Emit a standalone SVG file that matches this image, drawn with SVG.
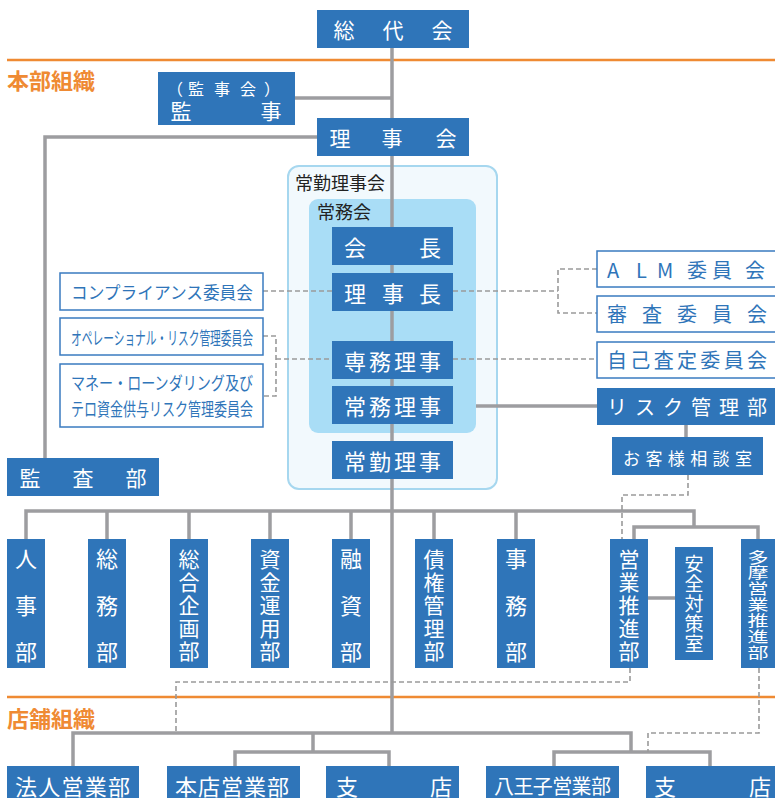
<svg xmlns="http://www.w3.org/2000/svg" width="775" height="798" viewBox="0 0 775 798">
<style>
text{font-family:"Noto Sans CJK JP","Noto Sans",sans-serif}
.n{fill:#2f75b9}
.c{fill:#fff;stroke:#3a7bc0;stroke-width:1.5}
.w{fill:#fff;dominant-baseline:central}
.wm{fill:#fff;dominant-baseline:central;text-anchor:middle}
.b{fill:#2f75b9;dominant-baseline:central}
.o{fill:#ef8a33;font-weight:bold;font-size:22px;dominant-baseline:central}
.s{fill:none;stroke:#9d9da0;stroke-width:3.5}
.d{fill:none;stroke:#9a9a9a;stroke-width:1.6;stroke-dasharray:5 3}
.ol{stroke:#ef8a33;stroke-width:2.5}
.lb{fill:#222;font-size:18px;dominant-baseline:central}
</style>
<g id="sections">
<line class="ol" x1="7" y1="60" x2="775" y2="60"/>
<line class="ol" x1="7" y1="697" x2="775" y2="697"/>
<text class="o" x="7" y="79">本部組織</text>
<text class="o" x="7" y="717">店舗組織</text>
</g>
<g id="panels">
<rect x="288" y="166" width="209" height="323" rx="11" fill="#f2f9fd" stroke="#a6d7ef" stroke-width="2"/>
<text class="lb" x="295" y="182">常勤理事会</text>
<rect x="309" y="199" width="167" height="234" rx="9" fill="#a9ddf6"/>
<text class="lb" x="317" y="211">常務会</text>
</g>
<g id="connectors">
<path class="s" d="M392 48V733"/>
<path class="s" d="M295 98H392"/>
<path class="s" d="M317 137H45V458"/>
<path class="s" d="M476 406H597"/>
<path class="s" d="M686 425V437"/>
<path class="s" d="M26 539V511H694V527M107 511V539M189 511V539M270 511V539M351 511V539M434 511V539M516 511V539"/>
<path class="s" d="M634 539V527H758V539"/>
<path class="s" d="M648 598H675"/>
<path class="s" d="M73 766V733H631V752M313 733V752M235 766V752H389V766M554 766V752H710V766"/>
<path class="d" d="M263 291H332"/>
<path class="d" d="M263 336H276V396H263M276 359H332"/>
<path class="d" d="M453 291H558M597 269H558V313H597"/>
<path class="d" d="M453 359H597"/>
<path class="d" d="M688 475V495H622V539"/>
<path class="d" d="M630 668V682H176V733"/>
<path class="d" d="M759 668V733H648V752"/>
</g>
<g id="sodaikai"><rect class="n" x="317" y="10" width="152" height="38"/><text class="wm" font-size="21"><tspan x="344" y="29">総</tspan><tspan x="393" y="29">代</tspan><tspan x="442" y="29">会</tspan></text></g>
<g id="kanji"><rect class="n" x="158" y="72" width="137" height="53"/><text class="wm" font-size="16"><tspan x="175" y="88">（</tspan><tspan x="196" y="88">監</tspan><tspan x="222" y="88">事</tspan><tspan x="248" y="88">会</tspan><tspan x="272" y="88">）</tspan></text><text class="wm" font-size="21"><tspan x="181" y="110">監</tspan><tspan x="271" y="110">事</tspan></text></g>
<g id="rijikai"><rect class="n" x="317" y="118" width="152" height="38"/><text class="wm" font-size="21"><tspan x="340" y="137">理</tspan><tspan x="392" y="137">事</tspan><tspan x="446" y="137">会</tspan></text></g>
<g id="kansabu"><rect class="n" x="7" y="458" width="152" height="38"/><text class="wm" font-size="21"><tspan x="30" y="477">監</tspan><tspan x="83" y="477">査</tspan><tspan x="136" y="477">部</tspan></text></g>
<g id="kaicho"><rect class="n" x="332" y="227" width="121" height="38"/><text class="wm" font-size="22"><tspan x="355" y="246">会</tspan><tspan x="430" y="246">長</tspan></text></g>
<g id="rijicho"><rect class="n" x="332" y="273" width="121" height="38"/><text class="wm" font-size="22"><tspan x="355" y="292">理</tspan><tspan x="393" y="292">事</tspan><tspan x="430" y="292">長</tspan></text></g>
<g id="senmu"><rect class="n" x="332" y="341" width="121" height="38"/><text class="wm" font-size="22"><tspan x="355" y="360">専</tspan><tspan x="380" y="360">務</tspan><tspan x="405" y="360">理</tspan><tspan x="430" y="360">事</tspan></text></g>
<g id="jomu"><rect class="n" x="332" y="386" width="121" height="38"/><text class="wm" font-size="22"><tspan x="355" y="405">常</tspan><tspan x="380" y="405">務</tspan><tspan x="405" y="405">理</tspan><tspan x="430" y="405">事</tspan></text></g>
<g id="jokin"><rect class="n" x="332" y="441" width="121" height="38"/><text class="wm" font-size="22"><tspan x="355" y="460">常</tspan><tspan x="380" y="460">勤</tspan><tspan x="405" y="460">理</tspan><tspan x="430" y="460">事</tspan></text></g>
<g id="compliance"><rect class="c" x="60" y="273" width="203" height="37"/><text class="b" x="71" y="291" font-size="17" textLength="182" lengthAdjust="spacingAndGlyphs">コンプライアンス委員会</text></g>
<g id="oprisk"><rect class="c" x="60" y="318" width="203" height="37"/><text class="b" x="71" y="337" font-size="18" textLength="182" lengthAdjust="spacingAndGlyphs">オペレーショナル・リスク管理委員会</text></g>
<g id="aml"><rect class="c" x="60" y="364" width="203" height="63"/><text class="b" x="71" y="382" font-size="18" textLength="182" lengthAdjust="spacingAndGlyphs">マネー・ローンダリング及び</text><text class="b" x="71" y="408" font-size="18" textLength="182" lengthAdjust="spacingAndGlyphs">テロ資金供与リスク管理委員会</text></g>
<g id="alm"><rect class="c" x="597" y="251" width="180" height="36"/><text class="b" font-size="20" x="607 636 657 687 712 745" y="269">ALM委員会</text></g>
<g id="shinsa"><rect class="c" x="597" y="296" width="180" height="36"/><text class="b" font-size="20" x="607 642 677 712 747" y="313">審査委員会</text></g>
<g id="jikosatei"><rect class="c" x="597" y="342" width="180" height="36"/><text class="b" font-size="20" x="607 630.3 653.7 677 700.3 723.7 747" y="359">自己査定委員会</text></g>
<g id="riskbu"><rect class="n" x="597" y="388" width="178" height="37"/><text class="w" font-size="20" x="607 635 663 691 719 747" y="406">リスク管理部</text></g>
<g id="okyakusama"><rect class="n" x="612" y="437" width="151" height="38"/><text class="w" font-size="17" x="623 645.4 667.8 690.2 712.6 735" y="457">お客様相談室</text></g>
<g id="jinji"><rect class="n" x="7" y="539" width="38" height="129"/><text class="wm" font-size="22"><tspan x="26" y="557">人</tspan><tspan x="26" y="604">事</tspan><tspan x="26" y="650">部</tspan></text></g>
<g id="somu"><rect class="n" x="88" y="539" width="38" height="129"/><text class="wm" font-size="22"><tspan x="107" y="557">総</tspan><tspan x="107" y="604">務</tspan><tspan x="107" y="650">部</tspan></text></g>
<g id="sogokikaku"><rect class="n" x="170" y="539" width="38" height="129"/><text class="wm" font-size="21"><tspan x="189" y="558">総</tspan><tspan x="189" y="581">合</tspan><tspan x="189" y="604">企</tspan><tspan x="189" y="627">画</tspan><tspan x="189" y="650">部</tspan></text></g>
<g id="shikinunyo"><rect class="n" x="251" y="539" width="38" height="129"/><text class="wm" font-size="21"><tspan x="270" y="558">資</tspan><tspan x="270" y="581">金</tspan><tspan x="270" y="604">運</tspan><tspan x="270" y="627">用</tspan><tspan x="270" y="650">部</tspan></text></g>
<g id="yushi"><rect class="n" x="332" y="539" width="38" height="129"/><text class="wm" font-size="22"><tspan x="351" y="557">融</tspan><tspan x="351" y="604">資</tspan><tspan x="351" y="650">部</tspan></text></g>
<g id="saiken"><rect class="n" x="415" y="539" width="38" height="129"/><text class="wm" font-size="21"><tspan x="434" y="558">債</tspan><tspan x="434" y="581">権</tspan><tspan x="434" y="604">管</tspan><tspan x="434" y="627">理</tspan><tspan x="434" y="650">部</tspan></text></g>
<g id="jimu"><rect class="n" x="497" y="539" width="38" height="129"/><text class="wm" font-size="22"><tspan x="516" y="557">事</tspan><tspan x="516" y="604">務</tspan><tspan x="516" y="650">部</tspan></text></g>
<g id="eigyosuishin"><rect class="n" x="610" y="539" width="38" height="129"/><text class="wm" font-size="21"><tspan x="629" y="558">営</tspan><tspan x="629" y="581">業</tspan><tspan x="629" y="604">推</tspan><tspan x="629" y="627">進</tspan><tspan x="629" y="650">部</tspan></text></g>
<g id="anzen"><rect class="n" x="675" y="547" width="38" height="113"/><text class="wm" font-size="19"><tspan x="694" y="562">安</tspan><tspan x="694" y="582">全</tspan><tspan x="694" y="602">対</tspan><tspan x="694" y="622">策</tspan><tspan x="694" y="642">室</tspan></text></g>
<g id="tama"><rect class="n" x="741" y="539" width="36" height="129"/>
<text class="wm" font-size="21" transform="translate(758,556) scale(1,0.72)">多</text>
<text class="wm" font-size="21" transform="translate(758,571.8) scale(1,0.72)">摩</text>
<text class="wm" font-size="21" transform="translate(758,587.6) scale(1,0.72)">営</text>
<text class="wm" font-size="21" transform="translate(758,603.5) scale(1,0.72)">業</text>
<text class="wm" font-size="21" transform="translate(758,619.3) scale(1,0.72)">推</text>
<text class="wm" font-size="21" transform="translate(758,635.1) scale(1,0.72)">進</text>
<text class="wm" font-size="21" transform="translate(758,651) scale(1,0.72)">部</text></g>
<g id="hojin"><rect class="n" x="7" y="766" width="132" height="40"/><text class="w" font-size="22" x="15 38.3 61.5 84.8 108" y="785">法人営業部</text></g>
<g id="honten"><rect class="n" x="167" y="766" width="133" height="40"/><text class="w" font-size="22" x="175 198 221 244 267" y="785">本店営業部</text></g>
<g id="shiten1"><rect class="n" x="326" y="766" width="133" height="40"/><text class="w" font-size="22" x="336 430" y="785">支店</text></g>
<g id="hachioji"><rect class="n" x="486" y="766" width="133" height="40"/><text class="w" font-size="20" x="494 513.4 532.8 552.2 571.6 591" y="785">八王子営業部</text></g>
<g id="shiten2"><rect class="n" x="646" y="766" width="131" height="40"/><text class="w" font-size="22" x="654 749" y="785">支店</text></g>
</svg>
